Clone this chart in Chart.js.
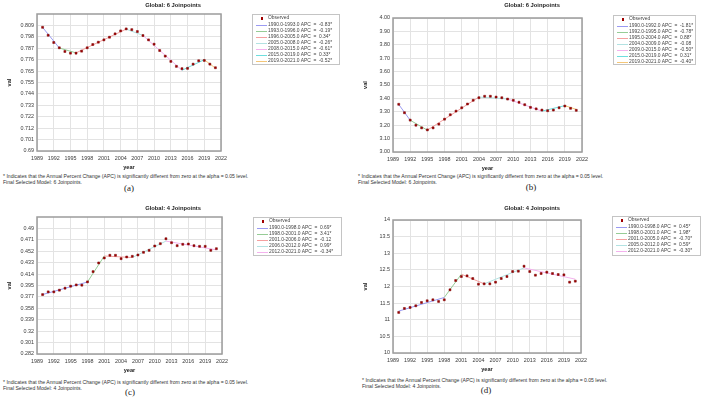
<!DOCTYPE html>
<html>
<head>
<meta charset="utf-8">
<script src="https://cdn.jsdelivr.net/npm/chart.js@4.4.0/dist/chart.umd.min.js"></script>
<style>
  body { margin:0; width:705px; height:397px; background:#fff; position:relative; overflow:hidden;
         font-family:"Liberation Sans", Arial, sans-serif; }
  .abs { position:absolute; }
  .ttl { font-weight:bold; font-size:5.8px; color:#222; transform:translate(-50%,-50%); white-space:nowrap; }
  .note { font-size:5.1px; color:#333; white-space:nowrap; line-height:6px; }
  .tag { font-family:"Liberation Serif", serif; font-size:9px; color:#222; transform:translate(-50%,-50%); white-space:nowrap; }
  .lg { border:1px solid #c4c4c4; background:#fff; font-size:4.9px; color:#444; box-sizing:border-box; }
  .lg .row { position:absolute; left:0; height:6px; line-height:6px; white-space:pre; }
  .lg .ln { position:absolute; height:1px; }
  .lg .dot { position:absolute; width:2.4px; height:2.4px; background:#a00000; }
</style>
</head>
<body>
<script>
// ---- data ----
const years = [1990,1991,1992,1993,1994,1995,1996,1997,1998,1999,2000,2001,2002,2003,2004,2005,
               2006,2007,2008,2009,2010,2011,2012,2013,2014,2015,2016,2017,2018,2019,2020,2021];
const xTickLabels = ['1989','1992','1995','1998','2001','2004','2007','2010','2013','2016','2019','2022'];

// (a)
const obsA = [0.8072,0.7997,0.7928,0.7878,0.7843,0.7827,0.7827,0.7846,0.7878,0.7909,0.7931,0.7953,0.7978,0.8010,0.8038,0.8057,
              0.8050,0.8032,0.7994,0.7953,0.7912,0.7852,0.7799,0.7749,0.7702,0.7680,0.7683,0.7723,0.7755,0.7758,0.7723,0.7689];
const jpA = [1990,1993,1996,2005,2008,2015,2019,2021];
const fitA = [0.8072,0.7876,0.7830,0.8055,0.7995,0.7665,0.7765,0.7685];
const apcA = ['-0.83*','-0.19*','0.34*','-0.26*','-0.61*','0.33*','-0.52*'];
const yTicksA = ['0.69','0.701','0.712','0.722','0.733','0.744','0.755','0.765','0.776','0.787','0.798','0.809'];

// (b)
const obsB = [3.356,3.293,3.238,3.200,3.180,3.165,3.180,3.208,3.245,3.278,3.305,3.330,3.358,3.386,3.405,3.416,
              3.416,3.410,3.405,3.395,3.386,3.371,3.353,3.333,3.322,3.313,3.308,3.313,3.330,3.343,3.326,3.311];
const jpB = [1990,1992,1995,2004,2009,2015,2019,2021];
const fitB = [3.355,3.237,3.163,3.410,3.396,3.305,3.346,3.318];
const apcB = ['-1.81*','-0.78*','0.88*','-0.08','-0.50*','0.31*','-0.40*'];
const yTicksB = ['3.00','3.10','3.20','3.30','3.40','3.50','3.60','3.70','3.80','3.90','4.00'];

// (c)
const obsC = [0.3804,0.3849,0.3849,0.3877,0.3910,0.3943,0.3964,0.3960,0.4014,0.4184,0.4328,0.4410,0.4455,0.4455,0.4399,0.4427,
              0.4438,0.4460,0.4504,0.4537,0.4609,0.4647,0.4729,0.4663,0.4614,0.4637,0.4642,0.4614,0.4603,0.4603,0.4537,0.4564];
const jpC = [1990,1998,2001,2006,2012,2021];
const fitC = [0.3805,0.4012,0.4443,0.4418,0.4690,0.4545];
const apcC = ['0.69*','3.41*','-0.12','0.99*','-0.34*'];
const yTicksC = ['0.282','0.301','0.32','0.339','0.358','0.377','0.395','0.414','0.433','0.452','0.471','0.49'];

// (d)
const obsD = [11.22,11.34,11.37,11.42,11.52,11.57,11.60,11.55,11.60,11.90,12.18,12.30,12.32,12.24,12.07,12.08,
              12.08,12.13,12.24,12.30,12.45,12.46,12.61,12.45,12.34,12.39,12.43,12.39,12.36,12.35,12.13,12.16];
const jpD = [1990,1998,2001,2005,2012,2021];
const fitD = [11.26,11.67,12.37,12.08,12.56,12.22];
const apcD = ['0.45*','1.98*','-0.70*','0.59*','-0.30*'];
const yTicksD = ['10','10.5','11','11.5','12','12.5','13','13.5','14'];

const segColors = ['#9a9af2','#96cc96','#f4a0a0','#b2e2e2','#f4b2ee','#6edede','#f4c678'];
const noteLine = '* Indicates that the Annual Percent Change (APC) is significantly different from zero at the alpha = 0.05 level.';

Chart.defaults.font.family = '"Liberation Sans", Arial, sans-serif';
Chart.defaults.color = '#3a3a3a';

// grey box round the plot area
const frame = {
  id: 'frame',
  afterDraw(c) {
    const a = c.chartArea, ctx = c.ctx;
    ctx.save();
    ctx.strokeStyle = '#9c9c9c';
    ctx.lineWidth = 1.5;
    ctx.strokeRect(a.left, a.top, a.right - a.left, a.bottom - a.top);
    ctx.restore();
  }
};

function el(cls, css, html) {
  const d = document.createElement('div');
  d.className = cls;
  Object.assign(d.style, css);
  if (html !== undefined) d.textContent = html;
  document.body.appendChild(d);
  return d;
}

function panel(p) {
  const cv = document.createElement('canvas');
  cv.className = 'abs';
  cv.width = p.right - p.cx + 10;
  cv.height = p.bottom - p.cy + 21;
  cv.style.left = p.cx + 'px';
  cv.style.top = p.cy + 'px';
  document.body.appendChild(cv);

  const lo = parseFloat(p.yTicks[0]);
  const hi = parseFloat(p.yTicks[p.yTicks.length - 1]);
  const step = (hi - lo) / (p.yTicks.length - 1);
  const yMax = hi + p.extra * step;

  const datasets = [{
    label: 'Observed',
    data: years.map((y, i) => ({ x: y, y: p.obs[i] })),
    pointStyle: 'rect',
    pointRadius: 1.4,
    backgroundColor: '#a00000',
    borderColor: '#7a0000',
    borderWidth: 0.5,
    showLine: false
  }];
  for (let i = 0; i < p.jp.length - 1; i++) {
    datasets.push({
      label: p.jp[i] + '.0-' + p.jp[i + 1] + '.0',
      data: [{ x: p.jp[i], y: p.fit[i] }, { x: p.jp[i + 1], y: p.fit[i + 1] }],
      showLine: true,
      pointRadius: 0,
      borderColor: segColors[i],
      borderWidth: 1
    });
  }

  new Chart(cv, {
    type: 'scatter',
    data: { datasets },
    options: {
      responsive: false,
      animation: false,
      layout: { padding: { top: p.top - p.cy, right: 10, left: 0, bottom: 0 } },
      plugins: { legend: { display: false }, tooltip: { enabled: false } },
      scales: {
        x: {
          type: 'linear', min: 1989, max: 2022,
          afterBuildTicks: s => { s.ticks = xTickLabels.map(v => ({ value: +v })); },
          afterFit: s => { s.height = 21; },
          grid: { color: '#e3e3e3', drawTicks: false },
          border: { display: false },
          ticks: { font: { size: 5.4 }, padding: 4, maxRotation: 0, autoSkip: false,
                   callback: (v, i) => xTickLabels[i] },
          title: { display: true, text: 'year', font: { size: 5.6, weight: 'bold' },
                   padding: { top: 0, bottom: 0.7 }, color: '#222' }
        },
        y: {
          min: lo, max: yMax,
          afterBuildTicks: s => { s.ticks = p.yTicks.map((t, i) => ({ value: lo + i * step })); },
          afterFit: s => { s.width = 37; },
          grid: { color: '#e3e3e3', drawTicks: false },
          border: { display: false },
          ticks: { font: { size: 5.4 }, padding: 3, autoSkip: false,
                   callback: (v, i) => p.yTicks[i] },
          title: { display: true, text: 'val', font: { size: 5.6, weight: 'bold' },
                   padding: { top: 6.5, bottom: 0 }, color: '#222' }
        }
      }
    },
    plugins: [frame]
  });

  el('abs ttl', { left: p.tx + 'px', top: p.ty + 'px' }, p.title);

  // legend box
  const lg = el('abs lg', { left: p.lg[0] + 'px', top: p.lg[1] + 'px',
                            width: p.lg[2] + 'px', height: p.lg[3] + 'px' });
  const rows = ['Observed'].concat(p.apc.map((a, i) =>
    p.jp[i] + '.0-' + p.jp[i + 1] + '.0 APC  =  ' + a));
  rows.forEach((txt, i) => {
    const cy = 3.4 + i * 6.1;
    const r = document.createElement('div');
    r.className = 'row';
    r.style.top = (cy - 3) + 'px';
    r.style.left = '15px';
    r.textContent = txt;
    lg.appendChild(r);
    if (i === 0) {
      const d = document.createElement('div');
      d.className = 'dot';
      d.style.left = '8px';
      d.style.top = (cy - 1.2) + 'px';
      lg.appendChild(d);
    } else {
      const l = document.createElement('div');
      l.className = 'ln';
      l.style.left = '3px';
      l.style.width = '11px';
      l.style.top = cy + 'px';
      l.style.background = segColors[i - 1];
      lg.appendChild(l);
    }
  });

  el('abs note', { left: p.nx + 'px', top: (p.ny - 3) + 'px' }, noteLine);
  el('abs note', { left: p.nx + 'px', top: (p.ny + 3) + 'px' }, p.model);
  el('abs tag', { left: p.gx + 'px', top: p.gy + 'px' }, p.tag);
}

panel({ cx: 0, cy: 0, top: 14, right: 221, bottom: 151,
        obs: obsA, jp: jpA, fit: fitA, apc: apcA, yTicks: yTicksA, extra: 1,
        title: 'Global: 6 Joinpoints', tx: 173, ty: 5,
        lg: [252, 14, 88, 51], nx: 3, ny: 176, model: 'Final Selected Model: 6 Joinpoints.',
        tag: '(a)', gx: 129, gy: 188 });
panel({ cx: 356, cy: 0, top: 18, right: 582, bottom: 152,
        obs: obsB, jp: jpB, fit: fitB, apc: apcB, yTicks: yTicksB, extra: 0,
        title: 'Global: 6 Joinpoints', tx: 532, ty: 5,
        lg: [613, 15, 83, 50], nx: 358, ny: 176, model: 'Final Selected Model: 6 Joinpoints.',
        tag: '(b)', gx: 531, gy: 187 });
panel({ cx: 0, cy: 196, top: 217, right: 222, bottom: 354,
        obs: obsC, jp: jpC, fit: fitC, apc: apcC, yTicks: yTicksC, extra: 1,
        title: 'Global: 4 Joinpoints', tx: 173, ty: 208,
        lg: [253, 217, 89, 39], nx: 3, ny: 382, model: 'Final Selected Model: 4 Joinpoints.',
        tag: '(c)', gx: 130, gy: 392 });
panel({ cx: 356, cy: 196, top: 220, right: 581, bottom: 353,
        obs: obsD, jp: jpD, fit: fitD, apc: apcD, yTicks: yTicksD, extra: 0,
        title: 'Global: 4 Joinpoints', tx: 532, ty: 208,
        lg: [612, 216, 89, 40], nx: 362, ny: 380, model: 'Final Selected Model: 4 Joinpoints.',
        tag: '(d)', gx: 486, gy: 390 });
</script>
</body>
</html>
